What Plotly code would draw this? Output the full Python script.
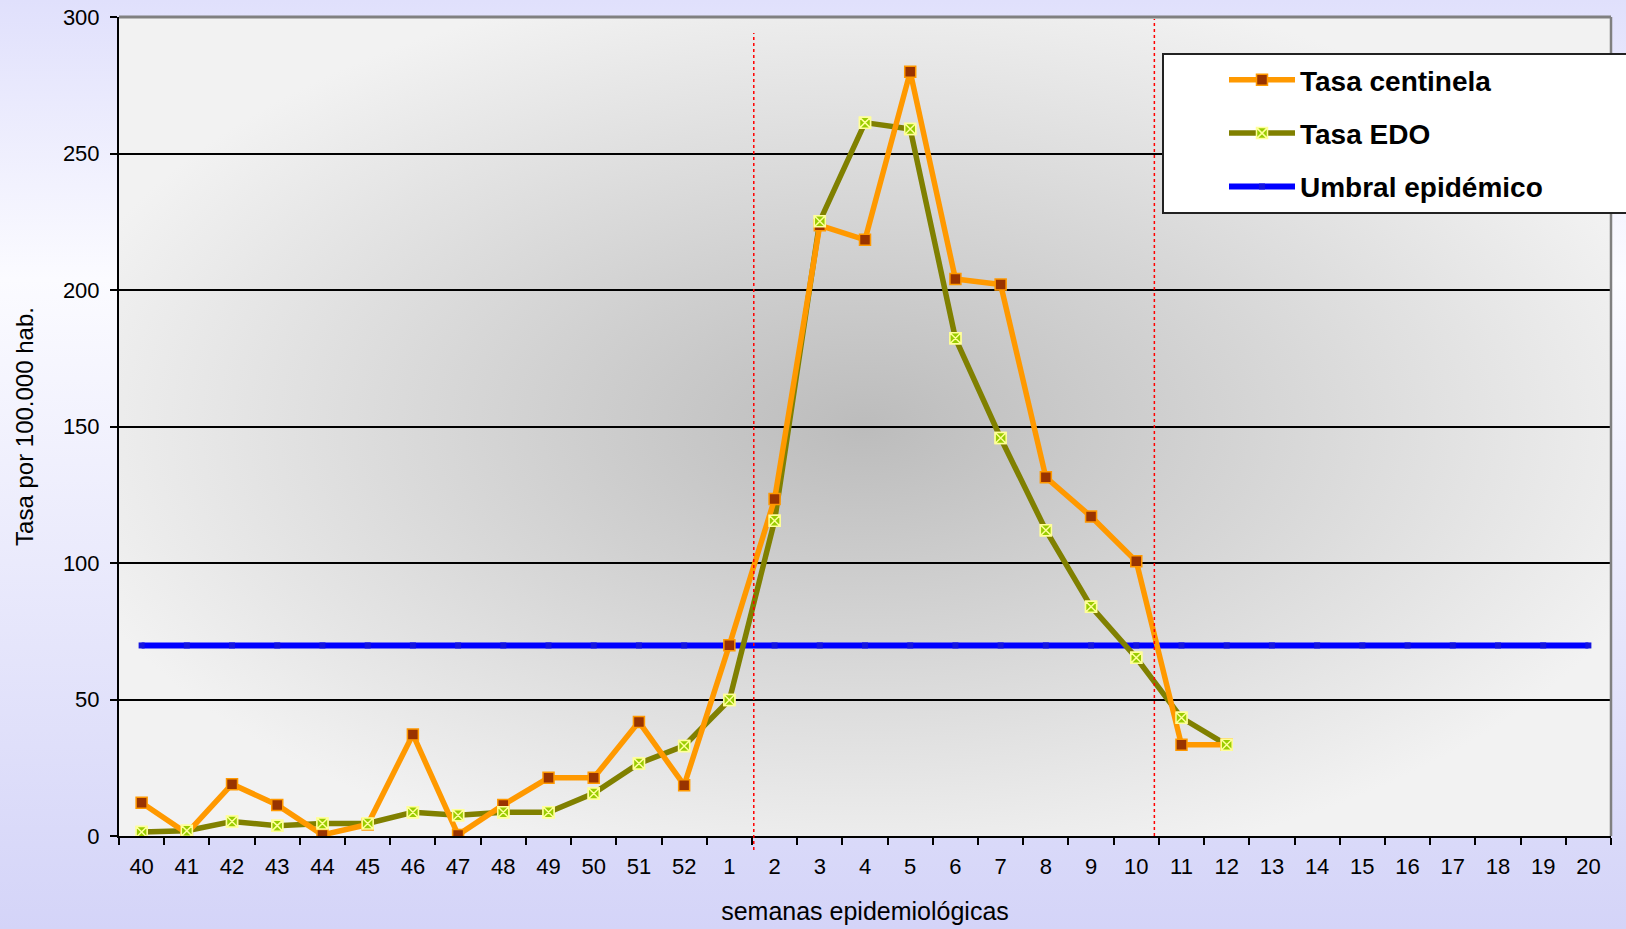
import base64
import plotly.graph_objects as go

weeks = ["40", "41", "42", "43", "44", "45", "46", "47", "48", "49", "50", "51", "52",
         "1", "2", "3", "4", "5", "6", "7", "8", "9", "10", "11", "12",
         "13", "14", "15", "16", "17", "18", "19", "20"]
tasa_centinela = [12.2, 1.0, 19.0, 11.4, 0.4, 4.2, 37.2, 0.4, 11.4, 21.3, 21.3, 41.8, 18.6,
                  69.9, 123.4, 223.7, 218.4, 279.9, 204.0, 202.0, 131.4, 117.0, 100.6, 33.4, 33.4]
tasa_edo = [1.5, 1.9, 5.3, 3.8, 4.6, 4.6, 8.7, 7.6, 8.7, 8.7, 15.6, 26.6, 33.0,
            49.8, 115.5, 225.2, 261.3, 259.0, 182.3, 145.8, 112.0, 84.0, 65.3, 43.3, 33.4]
umbral = [69.8] * len(weeks)
season_marks = [13.54, 22.4]

FONT = "Liberation Sans, Arial, sans-serif"


def svg_uri(svg):
    return "data:image/svg+xml;base64," + base64.b64encode(svg.encode()).decode()


page_bg = svg_uri(
    "<svg xmlns='http://www.w3.org/2000/svg' viewBox='0 0 100 100' preserveAspectRatio='none'>"
    "<defs><linearGradient id='g' x1='0' y1='0' x2='0' y2='1'>"
    "<stop offset='0' stop-color='#e0e0fc'/><stop offset='0.3' stop-color='#fbfbff'/>"
    "<stop offset='1' stop-color='#d4d4f8'/></linearGradient></defs>"
    "<rect width='100' height='100' fill='url(#g)'/></svg>")
plot_bg = svg_uri(
    "<svg xmlns='http://www.w3.org/2000/svg' viewBox='0 0 100 100' preserveAspectRatio='none'>"
    "<defs><radialGradient id='r' cx='0.5' cy='0.5' r='0.56'>"
    "<stop offset='0' stop-color='#bcbcbc'/><stop offset='1' stop-color='#f2f2f2'/>"
    "</radialGradient></defs>"
    "<rect width='100' height='100' fill='url(#r)'/></svg>")

L, R, T, B = 119, 15, 17, 93
W, H = 1626, 929
pw, ph = W - L - R, H - T - B


def px_x(X):
    return (X - L) / pw


def px_y(Y):
    return (H - B - Y) / ph


fig = go.Figure()

fig.add_trace(go.Scatter(
    x=weeks, y=umbral, name="Umbral epidémico", mode="lines+markers",
    line=dict(color="#0000ff", width=6),
    marker=dict(symbol="square", size=6, color="#1414e0"),
    legendgroup="c", legendrank=3))

fig.add_trace(go.Scatter(
    x=weeks[:len(tasa_edo)], y=tasa_edo, name="Tasa EDO", mode="lines+markers",
    line=dict(color="#808000", width=5.5),
    marker=dict(symbol="square-x", size=11, color="#99cc00",
                line=dict(color="#ffff99", width=1.5)),
    legendgroup="b", legendrank=2))

fig.add_trace(go.Scatter(
    x=weeks[:len(tasa_centinela)], y=tasa_centinela, name="Tasa centinela",
    mode="lines+markers",
    line=dict(color="#ff9900", width=5.5),
    marker=dict(symbol="square", size=11, color="#993300",
                line=dict(color="#ff9900", width=1.5)),
    legendgroup="a", legendrank=1))

fig.add_trace(go.Scatter(
    x=weeks[:len(tasa_edo)], y=tasa_edo, mode="markers", showlegend=False,
    marker=dict(symbol="square-x", size=11, color="#99cc00",
                line=dict(color="#ffff99", width=1.5)),
    hoverinfo="skip"))

shapes = [
    dict(type="line", xref="x", yref="paper", x0=season_marks[0], x1=season_marks[0],
         y0=px_y(850), y1=px_y(33), line=dict(color="#ff0000", width=1.5, dash="dot"),
         layer="above"),
    dict(type="line", xref="x", yref="paper", x0=season_marks[1], x1=season_marks[1],
         y0=px_y(836), y1=px_y(19), line=dict(color="#ff0000", width=1.5, dash="dot"),
         layer="above"),
    dict(type="line", xref="paper", yref="paper", x0=0, x1=1, y0=1, y1=1,
         line=dict(color="#808080", width=3), layer="above"),
    dict(type="line", xref="paper", yref="paper", x0=1, x1=1, y0=0, y1=1,
         line=dict(color="#808080", width=2.5), layer="above"),
    # legend frame
    dict(type="rect", xref="paper", yref="paper", x0=px_x(1163), x1=px_x(1660),
         y0=px_y(213), y1=px_y(54), fillcolor="#ffffff",
         line=dict(color="#222222", width=2), layer="above"),
]

images = [
    dict(source=page_bg, xref="paper", yref="paper", x=-L / pw, y=1 + T / ph,
         sizex=W / pw, sizey=H / ph, sizing="stretch", layer="below",
         xanchor="left", yanchor="top"),
    dict(source=plot_bg, xref="paper", yref="paper", x=0, y=1, sizex=1, sizey=1,
         sizing="stretch", layer="below", xanchor="left", yanchor="top"),
]

fig.update_layout(
    width=W, height=H,
    margin=dict(l=L, r=R, t=T, b=B, autoexpand=False),
    paper_bgcolor="#ffffff", plot_bgcolor="rgba(0,0,0,0)",
    font=dict(family=FONT, color="#000000", size=22),
    shapes=shapes, images=images,
    showlegend=True,
    legend=dict(x=px_x(1224), y=px_y(55), xanchor="left", yanchor="top",
                bgcolor="rgba(0,0,0,0)", borderwidth=0,
                font=dict(family=FONT, size=28, color="#000000", weight="bold"),
                itemwidth=66, tracegroupgap=14, traceorder="grouped"),
    xaxis=dict(type="category", range=[-0.5, len(weeks) - 0.5], showgrid=False,
               showline=True, linecolor="#000000", linewidth=2,
               ticks="outside", tickson="boundaries", ticklen=7, tickwidth=2,
               tickcolor="#000000", tickfont=dict(size=22), ticklabelstandoff=10,
               title=dict(text="semanas epidemiológicas", font=dict(size=25), standoff=24),
               zeroline=False),
    yaxis=dict(range=[0, 300], dtick=50, showgrid=True, gridcolor="#000000", gridwidth=1.5,
               showline=True, linecolor="#000000", linewidth=2,
               ticks="outside", ticklen=7, tickwidth=2, tickcolor="#000000",
               tickfont=dict(size=22), ticklabelstandoff=6,
               title=dict(text="Tasa por 100.000 hab.", font=dict(size=24), standoff=22),
               zeroline=False),
    hovermode=False,
)

fig.write_html(
    "out.html",
    config={"displayModeBar": False},
    post_script="document.body.style.margin='0';document.body.style.overflow='hidden';",
)
